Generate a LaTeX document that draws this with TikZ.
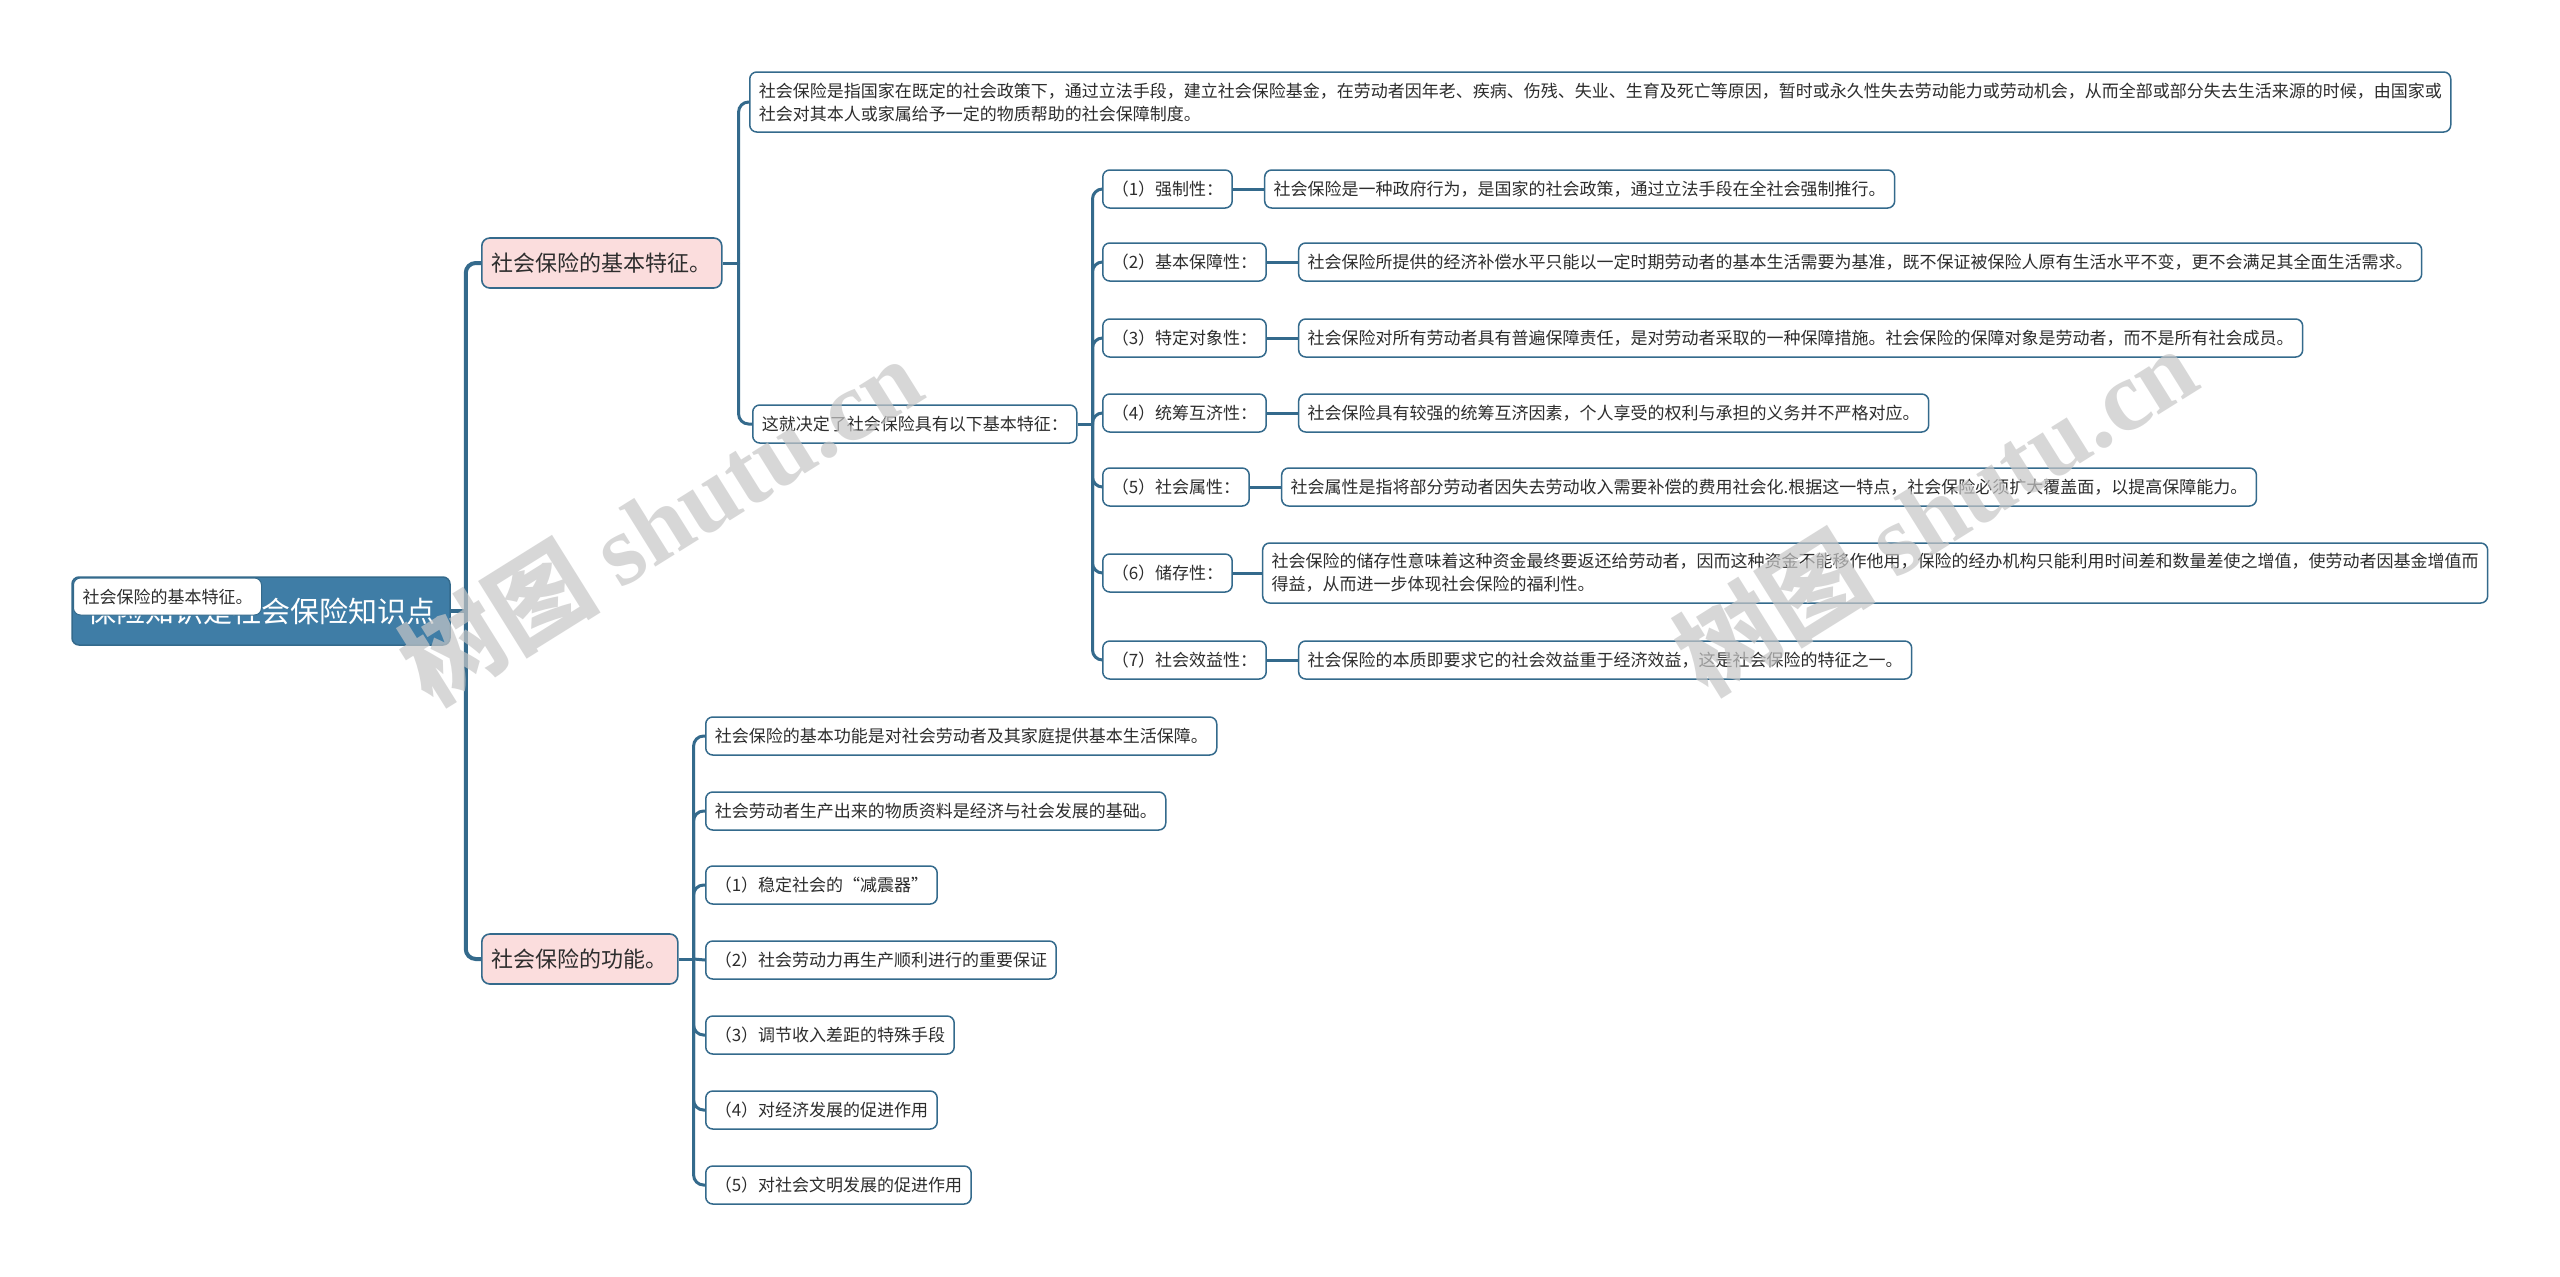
\documentclass[tikz,border=0pt]{standalone}
\usepackage{fontspec}
\setmainfont{Noto Sans CJK SC}
\newfontfamily\wmlatin{Liberation Serif}
\definecolor{lc}{RGB}{52,106,140}
\definecolor{rootc}{RGB}{63,125,166}
\definecolor{pinkc}{RGB}{251,221,221}
\definecolor{tc}{RGB}{45,45,45}
\begin{document}
\begin{tikzpicture}[x=1pt,y=-1pt,
  trunk/.style={draw=lc, line width=4pt, rounded corners=10pt},
  conn/.style={draw=lc, line width=3pt, rounded corners=10pt},
  leaf/.style={draw=lc, line width=1.5pt, rounded corners=7pt, fill=white, text=tc,
    font=\fontsize{17}{23}\selectfont, inner xsep=9pt, inner ysep=4pt,
    minimum height=38pt, anchor=west, align=left},
  lvone/.style={draw=lc, line width=1.6pt, rounded corners=8pt, fill=pinkc, text=tc,
    font=\fontsize{22}{26}\selectfont, inner xsep=10pt, minimum height=50pt, anchor=west},
  rootbox/.style={draw=lc, line width=1.5pt, rounded corners=7pt, fill=rootc, text=white,
    font=\fontsize{29}{34}\selectfont, minimum width=378pt, minimum height=68pt},
  wm/.style={text=black!22, opacity=0.7, rotate=32, font=\fontsize{100}{110}\selectfont\bfseries}
]
\useasboundingbox[fill=white] (0,0) rectangle (2560,1277);

% root
\node[rootbox] (root) at (261,611) {保险知识是社会保险知识点};
\node[leaf, minimum height=37pt, line width=1pt] (rootlab) at (73,596.5) {社会保险的基本特征。};

% level one
\node[lvone] (fa) at (481,263) {社会保险的基本特征。};
\node[lvone] (fb) at (481,959) {社会保险的功能。};

% branch a
\node[leaf, minimum height=60pt] (a1) at (749,102) {社会保险是指国家在既定的社会政策下，通过立法手段，建立社会保险基金，在劳动者因年老、疾病、伤残、失业、生育及死亡等原因，暂时或永久性失去劳动能力或劳动机会，从而全部或部分失去生活来源的时候，由国家或\\社会对其本人或家属给予一定的物质帮助的社会保障制度。};
\node[leaf] (a2) at (752,424) {这就决定了社会保险具有以下基本特征：};

\node[leaf] (k1) at (1102,189) {（1）强制性：};
\node[leaf] (k2) at (1102,262) {（2）基本保障性：};
\node[leaf] (k3) at (1102,338) {（3）特定对象性：};
\node[leaf] (k4) at (1102,413) {（4）统筹互济性：};
\node[leaf] (k5) at (1102,487) {（5）社会属性：};
\node[leaf] (k6) at (1102,573) {（6）储存性：};
\node[leaf] (k7) at (1102,660) {（7）社会效益性：};

\node[leaf] (d1) at ([xshift=31pt]k1.east) {社会保险是一种政府行为，是国家的社会政策，通过立法手段在全社会强制推行。};
\node[leaf] (d2) at ([xshift=31pt]k2.east) {社会保险所提供的经济补偿水平只能以一定时期劳动者的基本生活需要为基准，既不保证被保险人原有生活水平不变，更不会满足其全面生活需求。};
\node[leaf] (d3) at ([xshift=31pt]k3.east) {社会保险对所有劳动者具有普遍保障责任，是对劳动者采取的一种保障措施。社会保险的保障对象是劳动者，而不是所有社会成员。};
\node[leaf] (d4) at ([xshift=31pt]k4.east) {社会保险具有较强的统筹互济因素，个人享受的权利与承担的义务并不严格对应。};
\node[leaf] (d5) at ([xshift=31pt]k5.east) {社会属性是指将部分劳动者因失去劳动收入需要补偿的费用社会化.根据这一特点，社会保险必须扩大覆盖面，以提高保障能力。};
\node[leaf, minimum height=60pt] (d6) at ([xshift=29pt]k6.east) {社会保险的储存性意味着这种资金最终要返还给劳动者，因而这种资金不能移作他用，保险的经办机构只能利用时间差和数量差使之增值，使劳动者因基金增值而\\得益，从而进一步体现社会保险的福利性。};
\node[leaf] (d7) at ([xshift=31pt]k7.east) {社会保险的本质即要求它的社会效益重于经济效益，这是社会保险的特征之一。};

% branch b
\node[leaf] (b1) at (705,736) {社会保险的基本功能是对社会劳动者及其家庭提供基本生活保障。};
\node[leaf] (b2) at (705,811) {社会劳动者生产出来的物质资料是经济与社会发展的基础。};
\node[leaf] (b3) at (705,885) {（1）稳定社会的“减震器”};
\node[leaf] (b4) at (705,960) {（2）社会劳动力再生产顺利进行的重要保证};
\node[leaf] (b5) at (705,1035) {（3）调节收入差距的特殊手段};
\node[leaf] (b6) at (705,1110) {（4）对经济发展的促进作用};
\node[leaf] (b7) at (705,1185) {（5）对社会文明发展的促进作用};

% connectors
\draw[trunk] (root.east) -- ++(15,0) coordinate (t0);
\draw[trunk] (t0) |- (fa.west);
\draw[trunk] (t0) |- (fb.west);

\draw[conn] (fa.east) -- ++(16,0) coordinate (ta);
\draw[conn] (ta) |- (a1.west);
\draw[conn] (ta) |- (a2.west);

\draw[conn] (a2.east) -- ++(15,0) coordinate (tk);
\foreach \k in {k1,k2,k3,k4,k5,k6,k7} { \draw[conn] (tk) |- (\k.west); }
\foreach \k/\d in {k1/d1,k2/d2,k3/d3,k4/d4,k5/d5,k6/d6,k7/d7} { \draw[conn] (\k.east) -- (\d.west); }

\draw[conn] (fb.east) -- ++(15,0) coordinate (tb);
\foreach \b in {b1,b2,b3,b5,b6,b7} { \draw[conn] (tb) |- (\b.west); }
\draw[conn] (tb) -- (b4.west);

% watermarks
\node[wm] (wm1) at (660,520) {树图 {\wmlatin shutu.cn}};
\node[wm] (wm2) at (1935,510) {树图 {\wmlatin shutu.cn}};
\end{tikzpicture}
\end{document}
